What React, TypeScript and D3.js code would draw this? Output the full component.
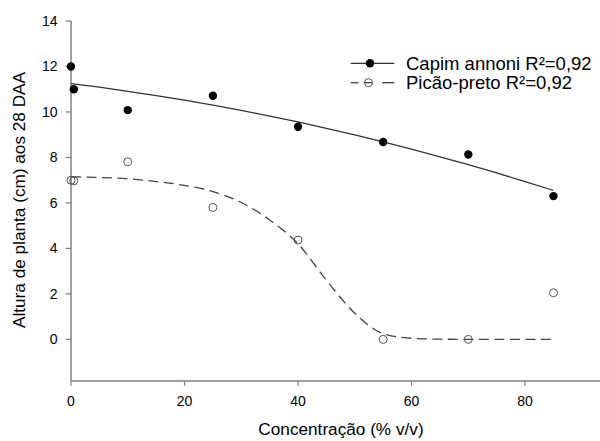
import React from "react";
import * as d3 from "d3";

const conc = [0, 0.5, 10, 25, 40, 55, 70, 85];
const capim = [12, 11, 10.08, 10.71, 9.35, 8.68, 8.13, 6.3];
const picao = [7, 6.97, 7.81, 5.8, 4.37, 0, 0, 2.05];

const fitX = [0, 5, 10, 15, 20, 25, 30, 35, 40, 45, 50, 55, 60, 65, 70, 75, 80, 85];
const capimFit = [11.25, 11.09, 10.91, 10.72, 10.52, 10.3, 10.07, 9.82, 9.56, 9.28, 8.99, 8.69, 8.37, 8.03, 7.68, 7.32, 6.94, 6.55];
const picaoFit = [7.15, 7.12, 7.06, 6.94, 6.77, 6.5, 6.02, 5.25, 4.2, 2.6, 1.15, 0.25, 0.05, 0.01, 0, 0, 0, 0];

const xTicks = [0, 20, 40, 60, 80];
const yTicks = [0, 2, 4, 6, 8, 10, 12, 14];

const seriesNames = ["Capim annoni R²=0,92", "Picão-preto R²=0,92"];
const xTitle = "Concentração (% v/v)";
const yTitle = "Altura de planta (cm) aos 28 DAA";

const W = 600;
const H = 441;
const FONT = "'Liberation Sans', Arial, sans-serif";

export default function App() {
  const x = d3.scaleLinear().domain([0, 93.2]).range([71, 600]);
  const y = d3.scaleLinear().domain([-1.83, 14]).range([381, 21]);

  const line = d3
    .line<number>()
    .x((_, i) => x(fitX[i]))
    .y((d) => y(d))
    .curve(d3.curveMonotoneX);

  const axisColor = "#808080";

  return (
    <svg
      width={W}
      height={H}
      style={{ position: "absolute", left: 0, top: 0, background: "#fff" }}
      fontFamily={FONT}
    >
      {/* axes */}
      <line x1={x(0)} x2={x(0)} y1={21} y2={381} stroke={axisColor} strokeWidth={1.5} />
      <line x1={x(0)} x2={600} y1={381} y2={381} stroke={axisColor} strokeWidth={1.5} />
      {yTicks.map((t) => (
        <g key={"y" + t}>
          <line x1={x(0) - 5.5} x2={x(0)} y1={y(t)} y2={y(t)} stroke={axisColor} strokeWidth={1.2} />
          <text x={57.5} y={y(t) + 5} textAnchor="end" fontSize={14} fill="#000">
            {t}
          </text>
        </g>
      ))}
      {xTicks.map((t) => (
        <g key={"x" + t}>
          <line x1={x(t)} x2={x(t)} y1={381} y2={386} stroke={axisColor} strokeWidth={1.2} />
          <text x={x(t)} y={406} textAnchor="middle" fontSize={14} fill="#000">
            {t}
          </text>
        </g>
      ))}
      <text x={341} y={435} textAnchor="middle" fontSize={17.2} fill="#000">
        {xTitle}
      </text>
      <text
        transform={`translate(25,200) rotate(-90)`}
        textAnchor="middle"
        fontSize={17.2}
        fill="#000"
      >
        {yTitle}
      </text>

      {/* fits */}
      <path d={line(capimFit) || ""} fill="none" stroke="#333" strokeWidth={1.3} />
      <path
        d={line(picaoFit) || ""}
        fill="none"
        stroke="#444"
        strokeWidth={1.3}
        strokeDasharray="10,5.5"
      />

      {/* points */}
      {conc.map((c, i) => (
        <circle key={"p" + i} cx={x(c)} cy={y(picao[i])} r={4} fill="none" stroke="#555" strokeWidth={1} />
      ))}
      {conc.map((c, i) => (
        <circle key={"c" + i} cx={x(c)} cy={y(capim[i])} r={4.2} fill="#000" />
      ))}

      {/* legend */}
      <g>
        <line x1={350.7} x2={394.3} y1={63.3} y2={63.3} stroke="#333" strokeWidth={1.3} />
        <circle cx={370} cy={63.3} r={4.2} fill="#000" />
        <text x={406} y={63.3 + 6.6} fontSize={18.5} fill="#000">
          {seriesNames[0]}
        </text>
        <line x1={350.7} x2={358.5} y1={82.7} y2={82.7} stroke="#444" strokeWidth={1.3} />
        <line x1={364} x2={372} y1={82.7} y2={82.7} stroke="#444" strokeWidth={1.3} />
        <line x1={382} x2={394.3} y1={82.7} y2={82.7} stroke="#444" strokeWidth={1.3} />
        <circle cx={368.5} cy={82.7} r={4} fill="none" stroke="#555" strokeWidth={1} />
        <text x={406} y={82.7 + 6.6} fontSize={18.5} fill="#000">
          {seriesNames[1]}
        </text>
      </g>
    </svg>
  );
}
